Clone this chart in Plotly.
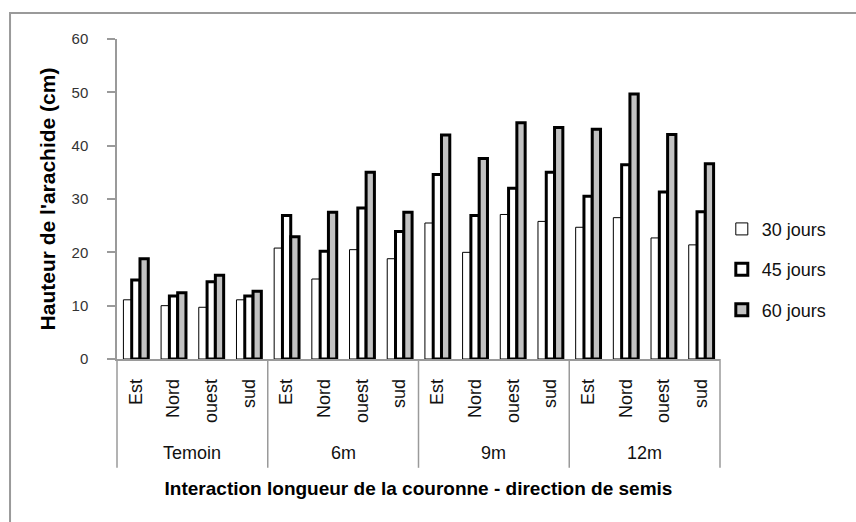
import plotly.graph_objects as go

# Crown length groups and sowing directions
groups = ["Temoin", "6m", "9m", "12m"]
directions = ["Est", "Nord", "ouest", "sud"]

# Groundnut height (cm) per group/direction, in the order above
h30 = [11.1, 10.0, 9.7, 11.1,
       20.8, 15.0, 20.5, 18.8,
       25.5, 20.0, 27.1, 25.8,
       24.7, 26.5, 22.7, 21.4]
h45 = [14.8, 11.8, 14.5, 11.8,
       26.9, 20.2, 28.3, 23.9,
       34.6, 26.9, 32.0, 35.0,
       30.5, 36.4, 31.3, 27.6]
h60 = [18.8, 12.4, 15.7, 12.7,
       22.9, 27.5, 35.0, 27.5,
       42.0, 37.6, 44.3, 43.4,
       43.1, 49.7, 42.1, 36.6]

series_names = ["30 jours", "45 jours", "60 jours"]

cats = [f"{g} {d}" for g in groups for d in directions]
tick_text = [d for g in groups for d in directions]

FONT = "Liberation Sans, Arial, sans-serif"
AXIS_GREY = "#9a9a9a"

styles = [
    dict(color="white", line=dict(color="black", width=1)),
    dict(color="white", line=dict(color="black", width=3)),
    dict(color="#c2c2c2", line=dict(color="black", width=3)),
]

fig = go.Figure()
for name, vals, st in zip(series_names, [h30, h45, h60], styles):
    fig.add_trace(go.Bar(x=cats, y=vals, name=name, marker=st,
                         legendgroup=name))

n_cat = len(cats)
n_dir = len(directions)

shapes = []
# group dividers below the category axis
for k in range(len(groups) + 1):
    xd = k * n_dir / n_cat
    shapes.append(dict(type="line", xref="x domain", yref="paper",
                       x0=xd, x1=xd, y0=0, y1=-0.34,
                       line=dict(color=AXIS_GREY, width=1.5)))
# outer chart frame
shapes.append(dict(type="rect", xref="paper", yref="paper",
                   x0=-0.1774, x1=1.3, y0=-0.7, y1=1.081,
                   line=dict(color=AXIS_GREY, width=2), layer="below"))

annotations = []
for gi, g in enumerate(groups):
    annotations.append(dict(text=g, xref="x", yref="paper",
                            x=gi * n_dir + (n_dir - 1) / 2, y=-0.294,
                            showarrow=False, yanchor="middle",
                            font=dict(family=FONT, size=18, color="#111")))

fig.update_layout(
    width=856, height=522,
    margin=dict(l=117, r=136, t=39, b=163),
    paper_bgcolor="white", plot_bgcolor="white",
    barmode="group", bargap=0.34, bargroupgap=0,
    font=dict(family=FONT, color="#111"),
    showlegend=True,
    legend=dict(x=1.003, y=0.279, xanchor="left", yanchor="middle",
                traceorder="grouped", tracegroupgap=14,
                font=dict(family=FONT, size=18, color="#111"),
                bgcolor="rgba(0,0,0,0)"),
    shapes=shapes,
    annotations=annotations,
    xaxis=dict(
        type="category", categoryorder="array", categoryarray=cats,
        tickvals=cats, ticktext=tick_text, tickangle=-90,
        tickfont=dict(family=FONT, size=18, color="#111"),
        showline=True, linecolor=AXIS_GREY, linewidth=1.5,
        ticks="", showgrid=False, zeroline=False,
        ticklabelstandoff=11,
        title=dict(text="<b>Interaction longueur de la couronne - direction de semis</b>",
                   font=dict(family=FONT, size=19, color="black"),
                   standoff=60),
        automargin=False,
    ),
    yaxis=dict(
        range=[0, 60], dtick=10, tick0=0,
        tickfont=dict(family=FONT, size=15, color="#333"),
        showline=True, linecolor=AXIS_GREY, linewidth=1.5,
        ticks="outside", ticklen=8, tickcolor=AXIS_GREY, tickwidth=1.5,
        showgrid=False, zeroline=False,
        ticklabelstandoff=16,
        title=dict(text="<b>Hauteur de l'arachide (cm)</b>",
                   font=dict(family=FONT, size=21, color="black"),
                   standoff=10),
        automargin=False,
    ),
)

fig.write_html("out.html")
